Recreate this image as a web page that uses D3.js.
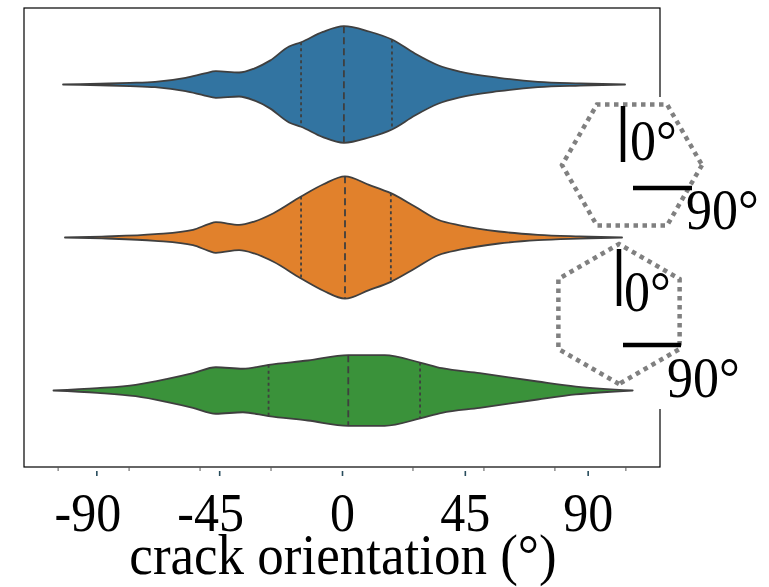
<!DOCTYPE html>
<html>
<head>
<meta charset="utf-8">
<title>crack orientation violins</title>
<script src="https://d3js.org/d3.v7.min.js"></script>
<style>
body { margin: 0; background: white; }
svg { display: block; font-family: "Liberation Serif", "DejaVu Serif", serif; }
</style>
</head>
<body>
<script>
// categories (top to bottom) and colours
var groups = ["a", "b", "c"];
var colors = ["#3274a1", "#e1812c", "#3a923a"];

// density profiles: angle (deg) and relative density
var blueAngle = [-102.2, -88.6, -77.7, -68.5, -57.3, -50.3, -46.2, -37.7, -32.2, -26.4, -19.4, -15.0, -7.0, 0.7, 9.9, 18.3, 26.7, 35.2, 43.6, 57.5, 71.8, 87.2, 103.7];
var blueDens  = [0, 0.013, 0.026, 0.044, 0.11, 0.18, 0.217, 0.196, 0.26, 0.39, 0.62, 0.69, 0.86, 0.953, 0.866, 0.735, 0.507, 0.315, 0.207, 0.11, 0.044, 0.018, 0];
var orangeAngle = [-101.5, -88, -68.5, -54.6, -48.9, -46.2, -37.7, -32.2, -25.1, -15.0, -6.8, 1.1, 9.9, 17.9, 26.7, 35.2, 43.6, 57.5, 71.8, 87, 102.6];
var orangeDens  = [0, 0.015, 0.054, 0.126, 0.217, 0.25, 0.207, 0.26, 0.397, 0.67, 0.87, 1.0, 0.86, 0.724, 0.507, 0.29, 0.196, 0.098, 0.044, 0.018, 0];
var greenAngle = [-105.7, -89.6, -75.6, -64.4, -54.6, -46.2, -36.3, -26.9, -12.5, 2.3, 15.6, 28.6, 36.6, 50.5, 71.7, 85.7, 106.5];
var greenDens  = [0, 0.038, 0.093, 0.185, 0.283, 0.38, 0.355, 0.42, 0.49, 0.577, 0.577, 0.457, 0.364, 0.283, 0.147, 0.065, 0];

// quartiles [q1, median, q3]
var blueQ = [-15.0, 0.7, 18.3];
var orangeQ = [-15.0, 1.1, 17.9];
var greenQ = [-26.9, 2.3, 28.6];

var xTicks = [-90, -45, 0, 45, 90];
var minorTicks = [-104, -78, -52, -26, 26, 52, 78, 104];

var width = 769, height = 587;
var stretch = 1.08; // text in the source is drawn a bit taller than wide
var svg = d3.select("body").append("svg").attr("width", width).attr("height", height);

var x = d3.scaleLinear().domain([-116.5, 116.5]).range([24, 660]);
var y = d3.scaleBand().domain(groups).range([8, 467]);
var w = d3.scaleLinear().domain([0, 1]).range([0, y.bandwidth() * 0.4]);

var series = [
  { angle: blueAngle, dens: blueDens, q: blueQ },
  { angle: orangeAngle, dens: orangeDens, q: orangeQ },
  { angle: greenAngle, dens: greenDens, q: greenQ }
];

function densAt(s, a) {
  var i = d3.bisectLeft(s.angle, a);
  if (i <= 0) return s.dens[0];
  var a0 = s.angle[i - 1], a1 = s.angle[i];
  var t = (a - a0) / (a1 - a0);
  return s.dens[i - 1] + t * (s.dens[i] - s.dens[i - 1]);
}

function label(tx, ty, size, str, anchor) {
  return svg.append("text")
    .attr("transform", "translate(" + tx + "," + ty + ") scale(1," + stretch + ")")
    .attr("font-size", size)
    .attr("text-anchor", anchor || "start")
    .text(str);
}

// frame
svg.append("rect")
  .attr("x", x.range()[0]).attr("y", y.range()[0])
  .attr("width", x.range()[1] - x.range()[0])
  .attr("height", y.range()[1] - y.range()[0])
  .attr("fill", "none").attr("stroke", "#000").attr("stroke-width", 1.2);

series.forEach(function(s, k) {
  var cy = y(groups[k]) + y.bandwidth() / 2;
  var pts = s.angle.map(function(a, i) { return [a, s.dens[i]]; });
  var area = d3.area()
    .x(function(d) { return x(d[0]); })
    .y0(function(d) { return cy - w(d[1]); })
    .y1(function(d) { return cy + w(d[1]); })
    .curve(d3.curveMonotoneX);
  svg.append("path")
    .attr("d", area(pts))
    .attr("fill", colors[k])
    .attr("stroke", "#3f3f3f")
    .attr("stroke-width", 1.8)
    .attr("stroke-linejoin", "round");

  s.q.forEach(function(a, j) {
    var h = w(densAt(s, a));
    svg.append("line")
      .attr("x1", x(a)).attr("x2", x(a))
      .attr("y1", cy - h).attr("y2", cy + h)
      .attr("stroke", "#3f3f3f")
      .attr("stroke-width", 1.8)
      .attr("stroke-dasharray", j == 1 ? "7,4" : "3,3");
  });
});

// x axis: minor ticks on frame, major ticks below
svg.append("g").selectAll("line").data(minorTicks).enter().append("line")
  .attr("x1", function(d) { return x(d); }).attr("x2", function(d) { return x(d); })
  .attr("y1", 467).attr("y2", 471)
  .attr("stroke", "#555").attr("stroke-width", 1);

var axis = svg.append("g").attr("transform", "translate(0,471)")
  .call(d3.axisBottom(x).tickValues(xTicks).tickSize(5).tickFormat(d3.format("d")));
axis.select(".domain").remove();
axis.selectAll(".tick line").attr("stroke", "#284c5c").attr("stroke-width", 1.6);
axis.selectAll(".tick text")
  .attr("font-family", "Liberation Serif")
  .attr("font-size", 50).attr("fill", "#000")
  .attr("dy", null).attr("y", 0)
  .attr("dx", function(d) { return d < 0 ? "-0.18em" : null; })
  .attr("transform", "translate(0,60) scale(1," + stretch + ")")
  .text(function(d) { return d < 0 ? "-" + Math.abs(d) : d; });

label(343, 574, 53, "crack orientation (°)", "middle");

// inset: white background covering right frame edge
svg.append("rect").attr("x", 640).attr("y", 97).attr("width", 129).attr("height", 312).attr("fill", "white");

function hexagon(cx, cy, r, rot) {
  var v = d3.range(6).map(function(i) {
    var t = rot + i * Math.PI / 3;
    return [cx + r * Math.cos(t), cy + r * Math.sin(t)];
  });
  return d3.line()(v) + "Z";
}

var insets = [
  { cx: 632, cy: 165, rot: 0, vx: 623, vy: [106, 162], hx: [633, 692], hy: 188, t0: [630, 160], t90: [686, 229] },
  { cx: 619, cy: 314, rot: Math.PI / 2, vx: 619, vy: [249, 306], hx: [623, 681], hy: 345, t0: [624, 311], t90: [667, 397] }
];

insets.forEach(function(d) {
  svg.append("path")
    .attr("d", hexagon(d.cx, d.cy, 70, d.rot))
    .attr("fill", "none")
    .attr("stroke", "#808080").attr("stroke-width", 4.5)
    .attr("stroke-dasharray", "4.5,4.5");
  svg.append("line").attr("x1", d.vx).attr("x2", d.vx).attr("y1", d.vy[0]).attr("y2", d.vy[1])
    .attr("stroke", "#000").attr("stroke-width", 4.5);
  svg.append("line").attr("x1", d.hx[0]).attr("x2", d.hx[1]).attr("y1", d.hy).attr("y2", d.hy)
    .attr("stroke", "#000").attr("stroke-width", 4.5);
  label(d.t0[0], d.t0[1], 52, "0°");
  label(d.t90[0], d.t90[1], 52, "90°");
});
</script>
</body>
</html>
